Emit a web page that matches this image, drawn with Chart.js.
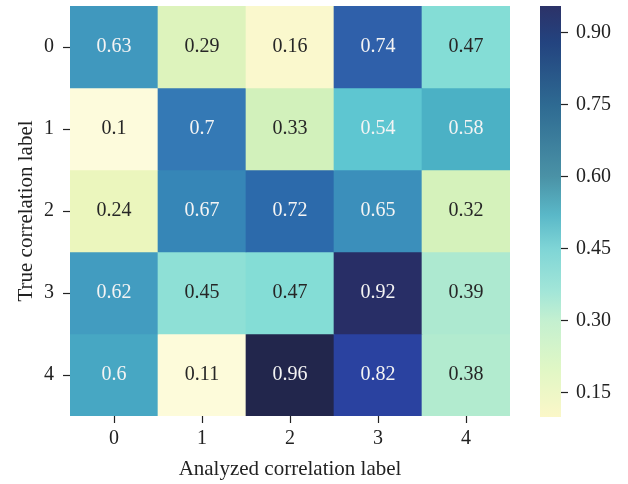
<!DOCTYPE html>
<html>
<head>
<meta charset="utf-8">
<script src="https://cdn.jsdelivr.net/npm/chart.js@4.4.0/dist/chart.umd.min.js"></script>
<style>
  html, body { margin: 0; padding: 0; background: #fff; }
  #wrap { position: relative; width: 628px; height: 484px; }
  #heat { position: absolute; left: 0; top: 0; }
  #bar { position: absolute; left: 520px; top: 0; }
</style>
</head>
<body>
<div id="wrap">
  <canvas id="heat" width="628" height="484"></canvas>
  <canvas id="bar" width="108" height="484"></canvas>
</div>
<script>
// data
const xLabels = ['0', '1', '2', '3', '4'];
const yLabels = ['0', '1', '2', '3', '4'];
const row0 = [0.63, 0.29, 0.16, 0.74, 0.47];
const row1 = [0.1, 0.7, 0.33, 0.54, 0.58];
const row2 = [0.24, 0.67, 0.72, 0.65, 0.32];
const row3 = [0.62, 0.45, 0.47, 0.92, 0.39];
const row4 = [0.6, 0.11, 0.96, 0.82, 0.38];
const rows = [row0, row1, row2, row3, row4];
const cbTicks = [0.15, 0.30, 0.45, 0.60, 0.75, 0.90];
const scaleMin = 0.10;
const scaleMax = 0.955;

const fontFamily = '"Liberation Serif", "DejaVu Serif", serif';
const ink = '#222222';

// colour stops (value -> colour), roughly the YlGnBu look of the picture
const cellStops = [
    [0.10, '#fdfbdc'], [0.16, '#faf8cd'], [0.24, '#ebf6bd'], [0.33, '#d2f1bb'],
    [0.38, '#b2ebcf'], [0.45, '#8ee0d6'], [0.47, '#84ddd6'], [0.54, '#5ec6d1'],
    [0.58, '#4bb1c5'], [0.62, '#429cc0'], [0.67, '#3686b7'], [0.70, '#3479b5'],
    [0.72, '#2c6aab'], [0.74, '#2f60aa'], [0.82, '#2a42a0'], [0.92, '#282e66'],
    [0.96, '#22264c']
];
const barStops = [
    [0.10, '#fbf7c8'], [0.20, '#e0f7c5'], [0.30, '#c4f0d0'], [0.36, '#a3e6d8'],
    [0.45, '#7fd5d6'], [0.52, '#5ab8c8'], [0.60, '#4a92a6'], [0.75, '#2e6a92'],
    [0.88, '#23437f'], [0.955, '#2c3268']
];

function hexToRgb(h) {
    const n = parseInt(h.slice(1), 16);
    return [(n >> 16) & 255, (n >> 8) & 255, n & 255];
}

function colorFor(v) {
    if (v <= cellStops[0][0]) return cellStops[0][1];
    for (let i = 1; i < cellStops.length; i++) {
        if (v <= cellStops[i][0]) {
            const [v0, c0] = cellStops[i - 1];
            const [v1, c1] = cellStops[i];
            const t = (v - v0) / (v1 - v0);
            const a = hexToRgb(c0), b = hexToRgb(c1);
            const c = a.map((x, k) => Math.round(x + (b[k] - x) * t));
            return `rgb(${c[0]}, ${c[1]}, ${c[2]})`;
        }
    }
    return cellStops[cellStops.length - 1][1];
}

const textColor = v => (v > 0.5 ? '#f4f4f4' : '#262626');

// no extra room for half tick labels at the ends
const noEndPadding = s => {
    s.paddingTop = 0;
    s.paddingBottom = 0;
};

// writes the value in the middle of every cell
const cellText = {
    id: 'cellText',
    afterDatasetsDraw(chart) {
        const ctx = chart.ctx;
        ctx.save();
        ctx.font = `20px ${fontFamily}`;
        ctx.textAlign = 'center';
        ctx.textBaseline = 'middle';
        chart.data.datasets.forEach((ds, i) => {
            chart.getDatasetMeta(i).data.forEach((bar, j) => {
                const v = rows[i][j];
                const p = bar.getCenterPoint();
                ctx.fillStyle = textColor(v);
                ctx.fillText(String(v), p.x, p.y);
            });
        });
        ctx.restore();
    }
};

new Chart(document.getElementById('heat'), {
    type: 'bar',
    data: {
        labels: xLabels,
        datasets: rows.map((r, i) => ({
            data: r.map(() => [i, i + 1]),
            backgroundColor: r.map(v => colorFor(v)),
            borderWidth: 0,
            grouped: false,
            barPercentage: 1,
            categoryPercentage: 1
        }))
    },
    options: {
        responsive: false,
        animation: false,
        layout: { padding: { top: 6, right: 118, left: 0, bottom: 0 } },
        plugins: { legend: { display: false }, tooltip: { enabled: false } },
        scales: {
            x: {
                grid: { offset: false, drawOnChartArea: false, tickLength: 7, color: ink, tickWidth: 1.2 },
                border: { display: false },
                ticks: { color: ink, font: { family: fontFamily, size: 20 }, padding: 4 },
                title: {
                    display: true, text: 'Analyzed correlation label', color: ink,
                    font: { family: fontFamily, size: 21 }, padding: { top: 0, bottom: 2 }
                },
                afterFit: s => { s.height = 68; }
            },
            y: {
                type: 'linear', min: 0, max: 5, reverse: true,
                afterBuildTicks: s => { s.ticks = yLabels.map((l, i) => ({ value: i + 0.5 })); },
                grid: { drawOnChartArea: false, tickLength: 7, color: ink, tickWidth: 1.2 },
                border: { display: false },
                ticks: {
                    color: ink, font: { family: fontFamily, size: 20 }, padding: 9, autoSkip: false,
                    callback: v => yLabels[Math.floor(v)]
                },
                title: {
                    display: true, text: 'True correlation label', color: ink,
                    font: { family: fontFamily, size: 21 }, padding: { top: 14, bottom: 0 }
                },
                afterFit: s => { s.width = 70; noEndPadding(s); }
            }
        }
    },
    plugins: [cellText]
});

// colour bar
new Chart(document.getElementById('bar'), {
    type: 'bar',
    data: {
        labels: [''],
        datasets: [{
            data: [[scaleMin, scaleMax]],
            borderWidth: 0,
            barPercentage: 1,
            categoryPercentage: 1,
            backgroundColor: (c) => {
                const chart = c.chart;
                if (!chart.chartArea) return null;
                const y = chart.scales.y;
                const g = chart.ctx.createLinearGradient(0, y.getPixelForValue(scaleMin), 0, y.getPixelForValue(scaleMax));
                barStops.forEach(s => g.addColorStop((s[0] - scaleMin) / (scaleMax - scaleMin), s[1]));
                return g;
            }
        }]
    },
    options: {
        responsive: false,
        animation: false,
        layout: { padding: { top: 6, right: 0, left: 20, bottom: 67 } },
        plugins: { legend: { display: false }, tooltip: { enabled: false } },
        scales: {
            x: { display: false },
            y: {
                position: 'right', min: scaleMin, max: scaleMax,
                afterBuildTicks: s => { s.ticks = cbTicks.map(v => ({ value: v })); },
                grid: { drawOnChartArea: false, tickLength: 7, color: ink, tickWidth: 1.2 },
                border: { display: false },
                ticks: {
                    color: ink, font: { family: fontFamily, size: 20 }, padding: 8,
                    callback: v => v.toFixed(2)
                },
                afterFit: s => { s.width = 67; noEndPadding(s); }
            }
        }
    }
});
</script>
</body>
</html>
